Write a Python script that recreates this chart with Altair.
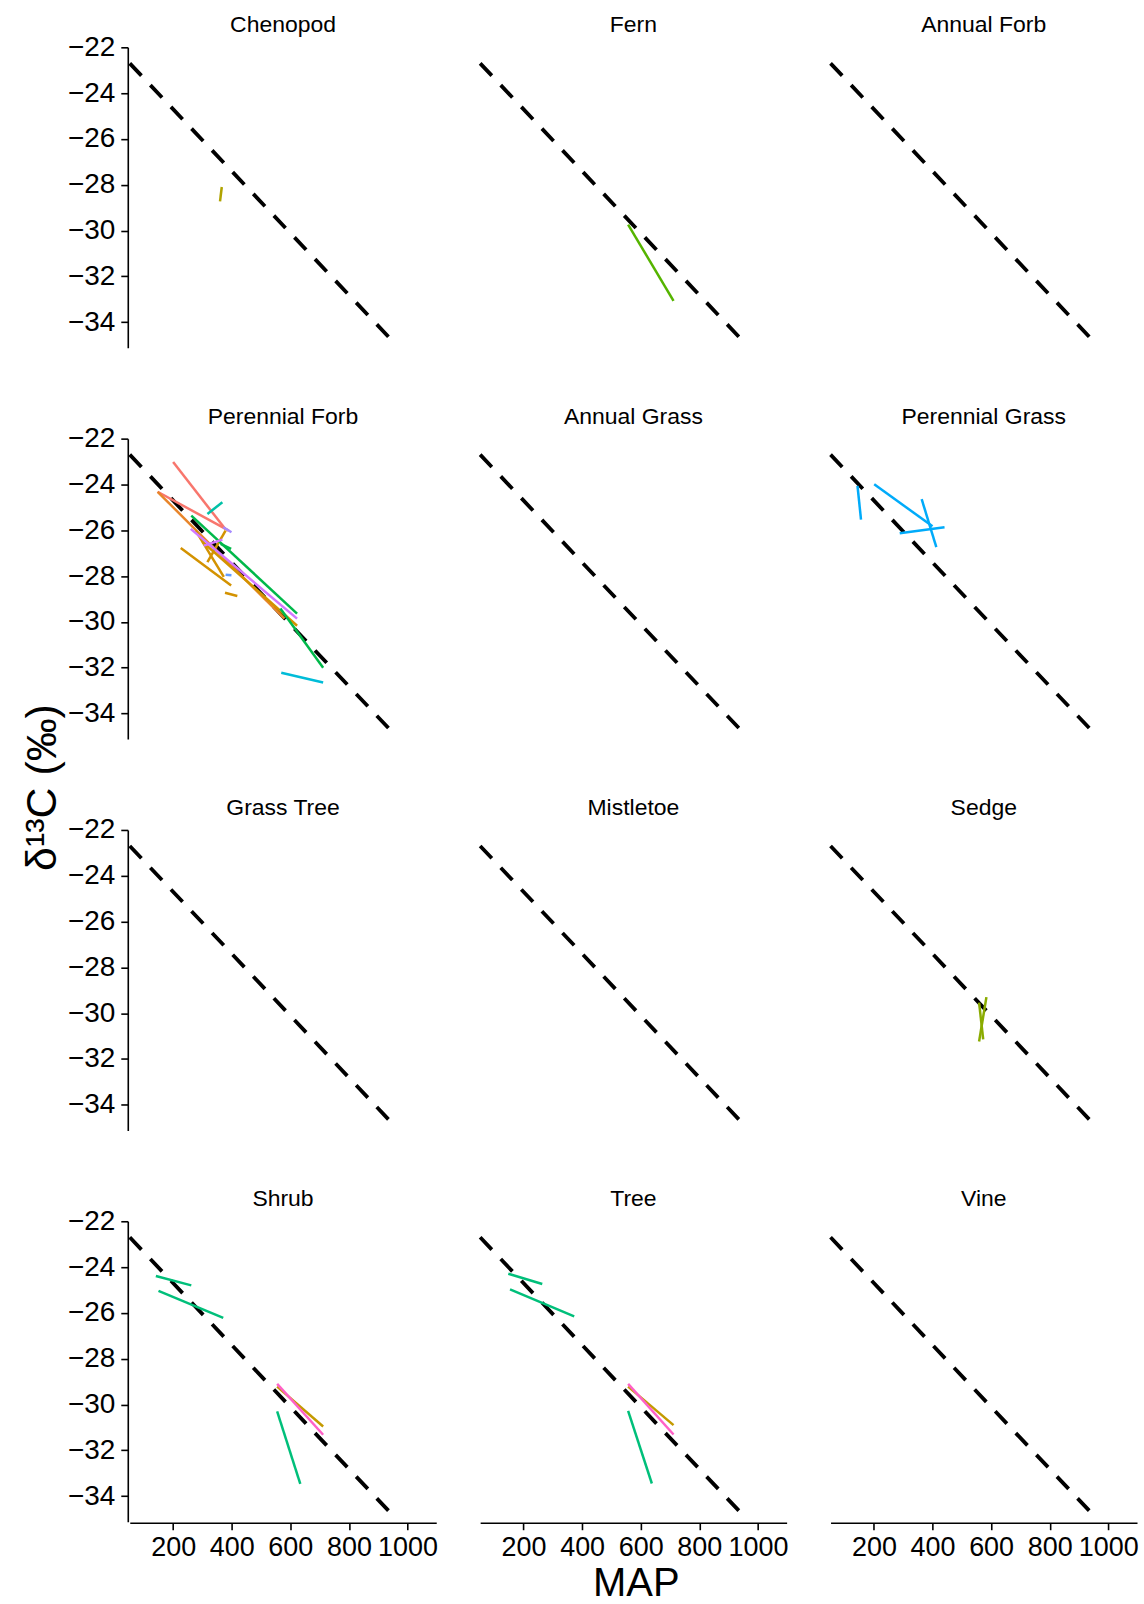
import altair as alt
import pandas as pd

# Growth-form panels, in reading order (3 per row)
panels = [
    "Chenopod", "Fern", "Annual Forb",
    "Perennial Forb", "Annual Grass", "Perennial Grass",
    "Grass Tree", "Mistletoe", "Sedge",
    "Shrub", "Tree", "Vine",
]

# Community-wide regression of d13C on mean annual precipitation
ref_map = [52, 947]
ref_d13c = [-22.7, -34.8]

# Species-level fits: one segment per row (start -> end)
seg_panel = (
    ["Chenopod", "Fern"]
    + ["Perennial Forb"] * 17
    + ["Perennial Grass"] * 4
    + ["Sedge"] * 2
    + ["Shrub"] * 5
    + ["Tree"] * 5
)
seg_species = (
    ["sp01", "sp02"]
    + ["sp03", "sp03", "sp04", "sp05", "sp05", "sp05", "sp05", "sp05",
       "sp06", "sp07", "sp07", "sp07", "sp08", "sp09", "sp09", "sp10", "sp11"]
    + ["sp12"] * 4
    + ["sp13"] * 2
    + ["sp14", "sp14", "sp14", "sp15", "sp16"]
    + ["sp14", "sp14", "sp14", "sp15", "sp16"]
)
seg_map0 = (
    [366, 557]
    + [200, 147, 147, 226, 377, 317, 277, 300, 317, 262, 566, 362, 569, 260, 305, 371, 379]
    + [144, 201, 363, 288]
    + [584, 559]
    + [141, 150, 555, 555, 555]
    + [148, 154, 557, 557, 557]
)
seg_map1 = (
    [360, 712]
    + [378, 390, 580, 398, 419, 379, 373, 623, 368, 623, 712, 398, 712, 623, 368, 399, 399]
    + [156, 400, 413, 441]
    + [559, 573]
    + [262, 371, 634, 712, 712]
    + [264, 373, 638, 712, 712]
)
seg_d0 = (
    [-28.10, -29.74]
    + [-23.02, -24.32, -24.32, -26.77, -28.73, -27.39, -26.02, -26.50, -25.29,
       -25.36, -29.42, -26.60, -32.22, -25.94, -26.67, -25.87, -27.94]
    + [-24.06, -23.99, -24.64, -26.13]
    + [-29.30, -29.54]
    + [-24.39, -25.04, -30.30, -29.22, -29.10]
    + [-24.29, -24.97, -30.28, -29.22, -29.10]
)
seg_d1 = (
    [-28.73, -33.07]
    + [-25.95, -26.02, -29.86, -28.41, -28.87, -26.02, -28.04, -30.17, -24.78,
       -29.64, -32.00, -26.81, -32.65, -29.86, -26.41, -26.09, -27.97]
    + [-25.54, -25.83, -26.74, -25.87]
    + [-31.24, -31.14]
    + [-24.80, -26.22, -33.47, -30.96, -31.32]
    + [-24.74, -26.15, -33.45, -30.90, -31.31]
)

species = ["sp01", "sp02", "sp03", "sp04", "sp05", "sp06", "sp07", "sp08",
           "sp09", "sp10", "sp11", "sp12", "sp13", "sp14", "sp15", "sp16"]
species_colors = ["#B0A300", "#55B400", "#F8766D", "#E8852A", "#D39200",
                  "#00C1A7", "#00B84A", "#00BCD8", "#D277FF", "#A58AFF",
                  "#619CFF", "#00ABFA", "#8AAB00", "#00BF7A", "#C49A00",
                  "#FF61C7"]

rows = []
for p in panels:
    for m, d in zip(ref_map, ref_d13c):
        rows.append({"panel": p, "kind": "ref", "group": "ref-" + p,
                     "species": "ref", "MAP": m, "d13C": d})
for i, (p, s, m0, m1, d0, d1) in enumerate(
        zip(seg_panel, seg_species, seg_map0, seg_map1, seg_d0, seg_d1)):
    for m, d in ((m0, d0), (m1, d1)):
        rows.append({"panel": p, "kind": "seg", "group": f"seg{i}",
                     "species": s, "MAP": m, "d13C": d})
df = pd.DataFrame(rows)

FONT = "Liberation Sans"

x = alt.X(
    "MAP:Q",
    scale=alt.Scale(domain=[52, 1098], nice=False, zero=False),
    axis=alt.Axis(values=[200, 400, 600, 800, 1000], format="d", title=None,
                  labelFontSize=27, labelPadding=5),
)
y = alt.Y(
    "d13C:Q",
    scale=alt.Scale(domain=[-35.12, -22.0], nice=False, zero=False),
    axis=alt.Axis(values=[-22, -24, -26, -28, -30, -32, -34], format="d",
                  title=None, labelFontSize=28, labelPadding=6, offset=-6),
)

ref = (
    alt.Chart()
    .mark_line(color="black", strokeDash=[17, 13], strokeWidth=3.8)
    .encode(x=x, y=y, detail="group:N")
    .transform_filter(alt.datum.kind == "ref")
)
segs = (
    alt.Chart()
    .mark_line(strokeWidth=2.5)
    .encode(
        x=x, y=y, detail="group:N",
        color=alt.Color("species:N",
                        scale=alt.Scale(domain=species, range=species_colors),
                        legend=None),
    )
    .transform_filter(alt.datum.kind == "seg")
)

grid = (
    alt.layer(ref, segs, data=df)
    .properties(width=307, height=301)
    .facet(
        facet=alt.Facet(
            "panel:N", sort=panels, title=None,
            header=alt.Header(labelFontSize=23, labelFont=FONT,
                              labelColor="black", labelPadding=10),
        ),
        columns=3,
        spacing={"row": 57, "column": 36},
    )
    .properties(
        title=alt.TitleParams(
            "δ¹³C (‰)", orient="left", anchor="middle", fontSize=43,
            font=FONT, fontWeight="normal", color="black", offset=2,
        )
    )
)

chart = (
    alt.vconcat(
        grid,
        title=alt.TitleParams(
            "MAP", orient="bottom", anchor="middle", fontSize=40,
            font=FONT, fontWeight="normal", color="black", offset=3, dx=56,
        ),
    )
    .properties(padding={"left": 22, "top": 13, "right": 5, "bottom": 0})
    .configure_view(stroke=None)
    .configure_axis(
        grid=False, domainColor="black", domainWidth=1.6,
        tickColor="black", tickWidth=1.6, tickSize=7,
        labelColor="black", labelFont=FONT,
    )
)

chart.save("out.html", embed_options={"renderer": "svg", "actions": False})
